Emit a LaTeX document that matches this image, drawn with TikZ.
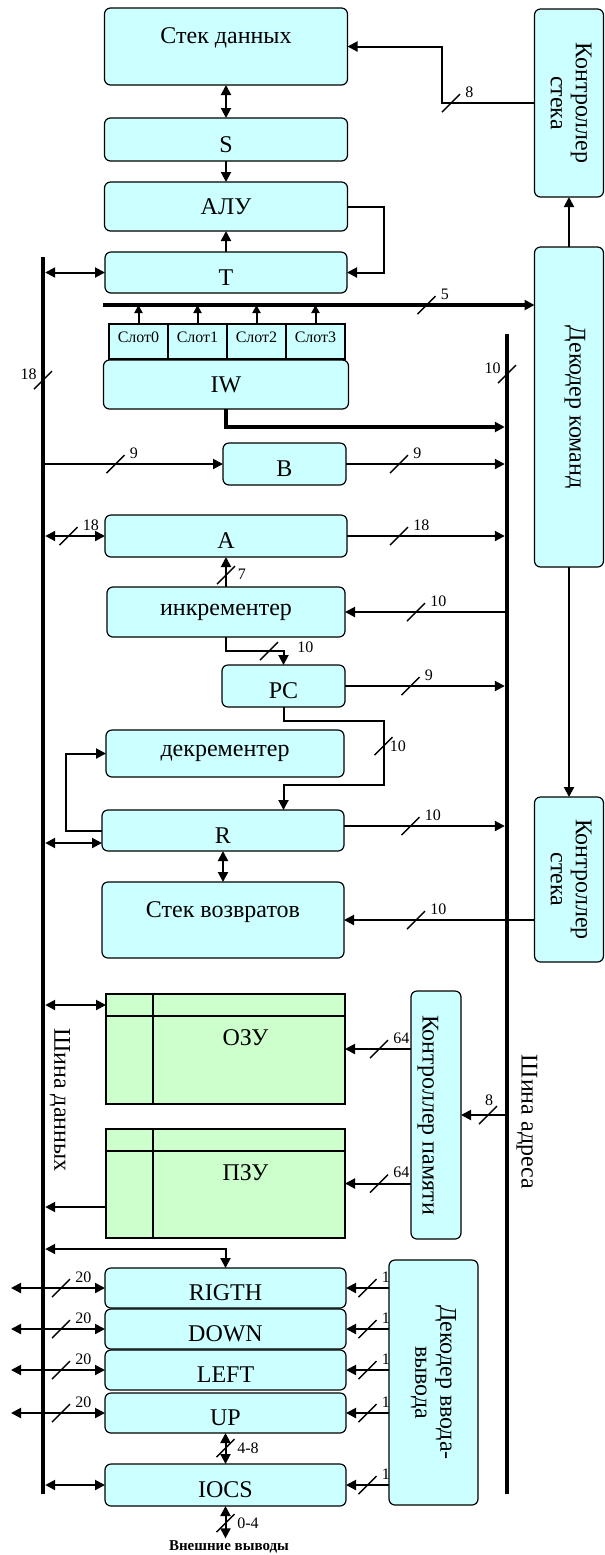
\documentclass[tikz,border=0pt]{standalone}
\usepackage{fontspec}
\setmainfont{Liberation Serif}
\usepackage{graphicx}
\usepackage{tikz}
\usetikzlibrary{arrows.meta}
\definecolor{RegCyan}{HTML}{CCFFFF}
\definecolor{MemGreen}{HTML}{CCFFCC}
\newcommand{\wbits}[4][anchor=south west,xshift=6pt,yshift=1.5pt]{%
  \draw[line width=0.7pt] (#3) ++(-9,9) -- ++(18,-18);
  \node[num,#1] (#2) at (#3) {#4};}
\begin{document}
\begin{tikzpicture}[x=0.5pt, y=-0.5pt,
  box/.style={draw, line width=0.6pt, rounded corners=3pt, fill=RegCyan, inner sep=0pt, outer sep=0pt, align=center, font=\fontsize{12}{14}\selectfont},
  reg/.style={box, minimum width=121pt, minimum height=21pt},
  low/.style={text height=12.5pt, text depth=0pt},
  toptext/.style={text height=17.5pt, text depth=20.5pt},
  slot/.style={box, sharp corners, minimum width=29.5pt, minimum height=17.5pt, font=\fontsize{8}{9}\selectfont, text height=6pt, text depth=5pt},
  mem/.style={draw, line width=0.6pt, fill=MemGreen, inner sep=0pt, outer sep=0pt, minimum width=119.5pt, font=\fontsize{12}{14}\selectfont, text height=25.5pt, text depth=29pt},
  num/.style={font=\fontsize{8}{9}\selectfont, inner sep=1pt},
  arr/.style={-{Triangle[length=5pt,width=5pt]}, line width=1pt},
  dbl/.style={{Triangle[length=5pt,width=5pt]}-{Triangle[length=5pt,width=5pt]}, line width=1pt},
  tobus/.style={shorten >=1.1pt},
  frombus/.style={shorten <=1.1pt},
  bus/.style={line width=2.2pt},
  wide/.style={line width=1.7pt}
]
\useasboundingbox (0,0) rectangle (605,1555);

\node[box, toptext, minimum width=121.5pt, minimum height=38.5pt] (dstack) at (226,46.5) {Стек данных};
\node[reg, low, minimum width=121.5pt, minimum height=21.5pt] (S) at (226,139.5) {S};
\node[reg, minimum width=121.5pt, minimum height=24.5pt] (alu) at (226,206.5) {АЛУ};
\node[reg, low, minimum height=20.5pt] (T) at (226,272.5) {T};
\foreach \i in {0,...,3}
  \node[slot] (slot\i) at (138.5+59*\i,341.5) {Слот\i};
\node[reg, minimum width=122.5pt, minimum height=24.5pt] (IW) at (226,384.5) {IW};
\node[reg, low, minimum width=61.5pt] (B) at (284.5,464) {B};
\node[reg, low] (A) at (226,536) {A};
\node[reg, minimum width=119pt, minimum height=25pt] (inc) at (226,612) {инкрементер};
\node[reg, low, minimum width=61.5pt] (PC) at (283.5,686) {PC};
\node[reg, minimum width=119pt, minimum height=23.5pt] (decr) at (225,753.5) {декрементер};
\node[reg, low, minimum height=20.5pt] (R) at (223,830.5) {R};
\node[box, toptext, minimum width=121pt, minimum height=38pt] (rstack) at (223,920) {Стек возвратов};

\node[box, minimum width=34.5pt, minimum height=94pt] (sctl1) at (569,103) {\rotatebox{-90}{\begin{tabular}{@{}c@{}}Контроллер\\[-1.5pt]стека\end{tabular}}};
\node[box, minimum width=34.5pt, minimum height=160pt] (cmddec) at (569,407) {\rotatebox{-90}{\raisebox{3pt}[\height][\depth]{Декодер команд}}};
\node[box, minimum width=34.5pt, minimum height=82.5pt] (sctl2) at (569,879.5) {\rotatebox{-90}{\begin{tabular}{@{}c@{}}Контроллер\\[-1.5pt]стека\end{tabular}}};

\node[mem, minimum height=55pt] (ram) at (225.5,1049) {\hspace*{20pt}ОЗУ};
\node[mem, minimum height=54.5pt] (rom) at (225.5,1183.5) {\hspace*{20pt}ПЗУ};
\node[box, minimum width=25pt, minimum height=124pt] (memctl) at (436,1115) {\rotatebox{-90}{\raisebox{-4pt}[\height][\depth]{Контроллер памяти}}};

\node[reg, low, minimum width=120.5pt, minimum height=20pt] (rigth) at (225.5,1288) {RIGTH};
\node[reg, low, minimum width=120.5pt, minimum height=20pt] (down) at (225.5,1329) {DOWN};
\node[reg, low, minimum width=120.5pt, minimum height=20pt] (left) at (225.5,1370) {LEFT};
\node[reg, low, minimum width=120.5pt, minimum height=20pt] (up) at (225.5,1413) {UP};
\node[reg, low, minimum width=120.5pt] (iocs) at (225.5,1485) {IOCS};
\node[box, minimum width=44.5pt, minimum height=122.5pt] (iodec) at (433.5,1382.5) {\rotatebox{-90}{\begin{tabular}{@{}c@{}}Декодер ввода-\\[-1.5pt]вывода\end{tabular}}};
\node[font=\fontsize{7.5}{9}\selectfont\bfseries, inner sep=1pt] (ext) at (229,1547) {Внешние выводы};

\node[rotate=-90, font=\fontsize{12}{14}\selectfont] (dbname) at (60,1100) {Шина данных};
\node[rotate=-90, font=\fontsize{12}{14}\selectfont] (abname) at (527,1122) {Шина адреса};

\coordinate (dtop) at (43,257);
\coordinate (dbot) at (43,1494);
\coordinate (atop) at (507,334);
\coordinate (abot) at (507,1494);
\coordinate (xl) at (11,0);
\coordinate (sl) at (103,305);
\draw[bus] (dtop) -- (dbot);
\draw[bus] (atop) -- (abot);
\wbits[anchor=east,xshift=-2pt,yshift=3pt]{n18d}{43,380}{18}
\wbits[anchor=east,xshift=-2pt,yshift=3pt]{n10a}{507,374}{10}

\draw[arr] (sctl1.west) -- ++(-93,0) |- (dstack.east);
\wbits{n8a}{451,103}{8}
\draw[dbl] (dstack) -- (S);
\draw[arr] (S) -- (alu);
\draw[arr] (T) -- (alu);
\draw[arr] (alu.east) -- ++(36,0) |- (T.east);
\draw[arr] (cmddec) -- (sctl1);
\draw[arr] (cmddec) -- (sctl2);
\draw[dbl, frombus] (T.west -| dtop) -- (T.west);

\draw[arr, wide] (sl) -- (sl -| cmddec.west);
\wbits{n5}{426.5,305}{5}
\foreach \i in {0,...,3}
  \draw[-{Triangle[length=4pt,width=4pt]}, line width=1pt] (slot\i) -- (slot\i.north |- sl);
\draw[arr, wide, tobus] (IW.south) -- ++(0,18) coordinate (iwc) -- (iwc -| atop);

\draw[arr] (B.west -| dtop) -- (B.west);
\wbits{n9a}{115.5,464}{9}
\draw[arr, tobus] (B.east) -- (B.east -| atop);
\wbits{n9b}{399,464}{9}

\draw[dbl, frombus] (A.west -| dtop) -- (A.west);
\wbits{n18a}{68.5,536}{18}
\draw[arr, tobus] (A.east) -- (A.east -| atop);
\wbits{n18b}{399,536}{18}
\draw[arr] (inc) -- (A);
\wbits[anchor=west,xshift=4.75pt,yshift=0.5pt]{n7}{226,575}{7}
\draw[arr] (inc.east -| atop) -- (inc.east);
\wbits{n10b}{416,612}{10}
\draw[arr] (inc.south) -- ++(0,14) -| (PC.north);
\wbits[anchor=west,xshift=13pt,yshift=2pt]{n10c}{269,651}{10}
\draw[arr, tobus] (PC.east) -- (PC.east -| atop);
\wbits{n9c}{410.5,686}{9}
\draw[arr] (PC.south) -- ++(0,14) -| ++(100,64) -| (R.north -| PC.south);
\wbits[anchor=west,xshift=2pt,yshift=0pt]{n10d}{383.5,746}{10}

\draw[arr] (R.west) -- ++(-36,0) |- (decr.west);
\coordinate (rw) at ([yshift=-6.25pt]R.west);
\draw[dbl, frombus] (rw -| dtop) -- (rw);
\coordinate (re) at ([yshift=2.25pt]R.east);
\draw[arr, tobus] (re) -- (re -| atop);
\wbits{n10e}{410.5,826}{10}
\draw[dbl] (R) -- (rstack);
\draw[arr] (rstack.east -| sctl2.west) -- (rstack.east);
\wbits{n10f}{416,920}{10}

\foreach \m in {ram,rom} {
  \draw[line width=0.6pt] ([yshift=-11pt]\m.north west) -- ([yshift=-11pt]\m.north east);
  \draw[line width=0.6pt] ([xshift=23.5pt]\m.north west) -- ([xshift=23.5pt]\m.south west);
}
\coordinate (rmw) at ([yshift=22pt]ram.west);
\draw[dbl, frombus] (rmw -| dtop) -- (rmw);
\draw[arr] (ram.east -| memctl.west) -- (ram.east);
\wbits{n64a}{379,1049}{64}
\coordinate (rmo) at ([yshift=-11.75pt]rom.west);
\draw[arr, tobus] (rmo) -- (rmo -| dtop);
\draw[arr] (rom.east -| memctl.west) -- (rom.east);
\wbits{n64b}{379,1183.5}{64}
\draw[arr] (memctl.east -| atop) -- (memctl.east);
\wbits[anchor=south,xshift=0.5pt,yshift=3.5pt]{n8b}{488,1115}{8}

\draw[dbl, tobus] (rigth.north) -- ++(0,-19) coordinate (rg) -- (rg -| dtop);
\foreach \r/\y in {rigth/1288, down/1329, left/1370, up/1413} {
  \draw[dbl] (\r.west -| xl) -- (\r.west);
  \wbits{n20\r}{61,\y}{20}
  \draw[arr] (\r.east -| iodec.west) -- (\r.east);
  \wbits{n1\r}{367.5,\y}{1}
}
\draw[dbl] (up) -- (iocs);
\wbits[anchor=west,xshift=4.75pt,yshift=0pt]{n48}{225.5,1448}{4-8}
\draw[dbl, frombus] (iocs.west -| dtop) -- (iocs.west);
\draw[arr] (iocs.east -| iodec.west) -- (iocs.east);
\wbits{n1io}{367.5,1485}{1}
\draw[dbl] (iocs.south) -- (iocs.south |- ext.north);
\wbits[anchor=west,xshift=4.75pt,yshift=0pt]{n04}{225.5,1523}{0-4}
\end{tikzpicture}
\end{document}
